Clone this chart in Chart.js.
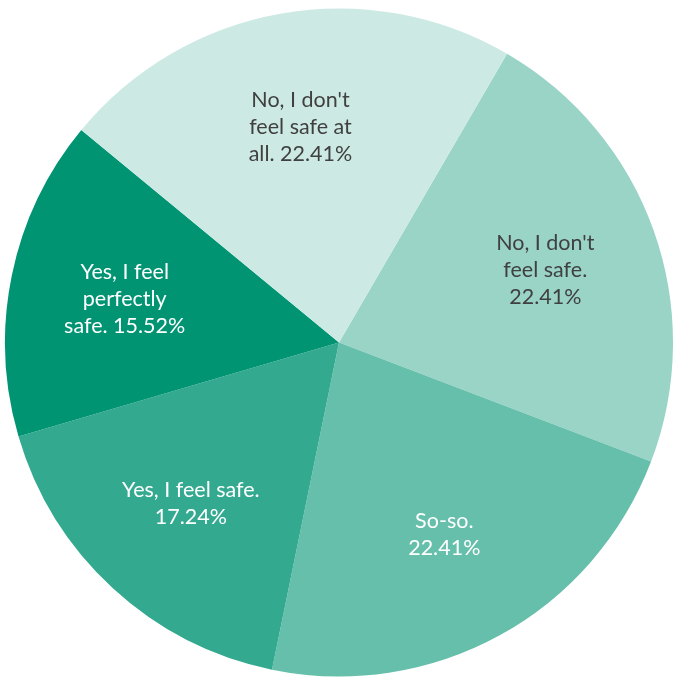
<!DOCTYPE html>
<html>
<head>
<meta charset="utf-8">
<script src="https://cdn.jsdelivr.net/npm/chart.js@4"></script>
<style>
  html, body { margin: 0; padding: 0; background: #ffffff; }
  #wrap { width: 674px; height: 677px; }
</style>
</head>
<body>
<div id="wrap"><canvas id="safety"></canvas></div>
<script>
// answers, clockwise from about 1 o'clock
var categories = ["No, I don't feel safe.", "So-so.", "Yes, I feel safe.", "Yes, I feel perfectly safe.", "No, I don't feel safe at all."];
var counts = [13, 13, 10, 9, 13];
var percents = ["22.41%", "22.41%", "17.24%", "15.52%", "22.41%"];
// how each label wraps inside its slice
var labelLines = [
    ["No, I don't", "feel safe.", "22.41%"],
    ["So-so.", "22.41%"],
    ["Yes, I feel safe.", "17.24%"],
    ["Yes, I feel", "perfectly", "safe. 15.52%"],
    ["No, I don't", "feel safe at", "all. 22.41%"]
];
var sliceColors = ["#99d4c7", "#66bfab", "#33a98f", "#009473", "#cceae3"];
var textColors = ["#404040", "#ffffff", "#ffffff", "#ffffff", "#404040"];

var sliceLabels = {
    id: 'sliceLabels',
    afterDatasetsDraw: function (chart) {
        var ctx = chart.ctx;
        var meta = chart.getDatasetMeta(0);
        ctx.save();
        ctx.font = '21.5px Lato, "Open Sans", sans-serif';
        ctx.textAlign = 'center';
        ctx.textBaseline = 'middle';
        meta.data.forEach(function (arc, i) {
            var mid = (arc.startAngle + arc.endAngle) / 2;
            var r = arc.outerRadius * 0.655;
            var x = arc.x + Math.cos(mid) * r;
            var y = arc.y + Math.sin(mid) * r;
            var lines = labelLines[i];
            var lh = 27;
            ctx.fillStyle = textColors[i];
            lines.forEach(function (t, k) {
                ctx.fillText(t, x, y + (k - (lines.length - 1) / 2) * lh);
            });
        });
        ctx.restore();
    }
};

var chrt = document.getElementById("safety").getContext("2d");
var chartId = new Chart(chrt, {
    type: 'pie',
    data: {
        labels: categories,
        datasets: [{
            data: counts,
            backgroundColor: sliceColors,
            borderWidth: 0
        }]
    },
    options: {
        responsive: true,
        maintainAspectRatio: false,
        animation: false,
        rotation: 30.2,
        layout: {
            padding: { left: 5, right: 1, top: 8, bottom: 0 }
        },
        plugins: {
            legend: { display: false },
            tooltip: { enabled: false }
        }
    },
    plugins: [sliceLabels]
});
</script>
</body>
</html>
